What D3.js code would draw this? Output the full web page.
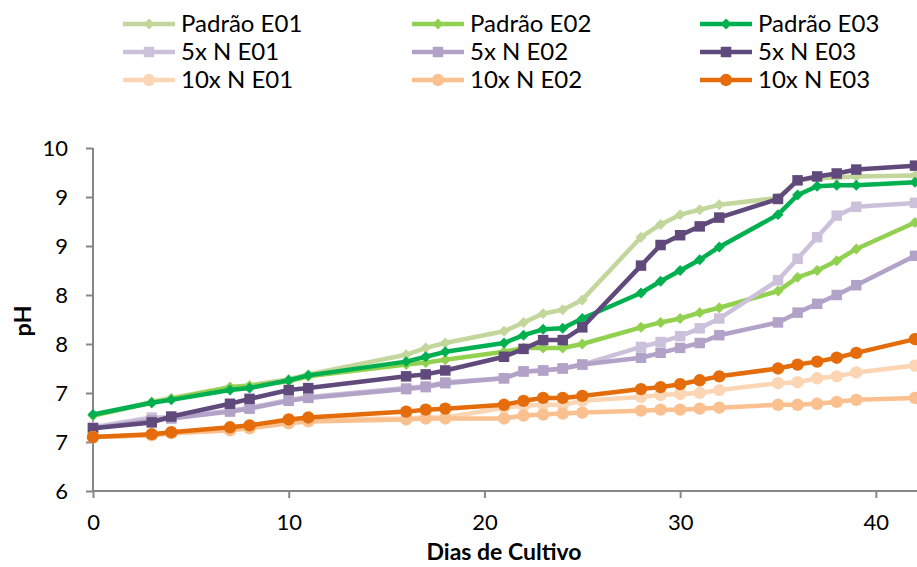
<!DOCTYPE html>
<html>
<head>
<meta charset="utf-8">
<script src="https://cdn.jsdelivr.net/npm/d3@7"></script>
<style>
  body { margin: 0; background: #fff; }
  svg { display: block; font-family: Lato, "Noto Sans", sans-serif; }
</style>
</head>
<body>
<script>
// chart size
var dimensions = {
  width: 917,
  height: 567
};

// days of culture (x values)
var days = [0, 3, 4, 7, 8, 10, 11, 16, 17, 18, 21, 22, 23, 24, 25, 28, 29, 30, 31, 32, 35, 36, 37, 38, 39, 42];

// pH series
var padraoE01 = [6.77, 6.91, 6.95, 7.06, 7.08, 7.14, 7.19, 7.39, 7.46, 7.51, 7.63, 7.72, 7.81, 7.85, 7.95, 8.59, 8.72, 8.82, 8.87, 8.92, 8.99, 9.17, 9.19, 9.20, 9.21, 9.22];
var padraoE02 = [6.77, 6.90, 6.94, 7.06, 7.07, 7.12, 7.17, 7.29, 7.31, 7.34, 7.42, 7.46, 7.46, 7.46, 7.50, 7.67, 7.72, 7.76, 7.82, 7.87, 8.04, 8.18, 8.25, 8.35, 8.47, 8.74];
var padraoE03 = [6.78, 6.90, 6.93, 7.03, 7.05, 7.13, 7.18, 7.32, 7.37, 7.42, 7.51, 7.59, 7.65, 7.66, 7.76, 8.02, 8.14, 8.25, 8.36, 8.49, 8.82, 9.02, 9.11, 9.12, 9.12, 9.15];
var n5E01 = [6.65, 6.75, 6.75, 6.82, 6.85, 6.93, 6.96, 7.05, 7.07, 7.11, 7.15, 7.22, 7.23, 7.25, 7.29, 7.47, 7.52, 7.58, 7.66, 7.76, 8.15, 8.37, 8.59, 8.81, 8.90, 8.94];
var n5E02 = [6.64, 6.72, 6.74, 6.81, 6.84, 6.92, 6.95, 7.04, 7.06, 7.10, 7.15, 7.22, 7.23, 7.25, 7.29, 7.36, 7.41, 7.46, 7.51, 7.59, 7.72, 7.82, 7.91, 8.00, 8.10, 8.40];
var n5E03 = [6.64, 6.70, 6.76, 6.89, 6.94, 7.03, 7.05, 7.17, 7.19, 7.23, 7.37, 7.45, 7.54, 7.54, 7.67, 8.30, 8.51, 8.61, 8.70, 8.79, 8.98, 9.17, 9.21, 9.24, 9.28, 9.32];
var n10E01 = [6.55, 6.57, 6.59, 6.62, 6.65, 6.70, 6.73, 6.74, 6.75, 6.75, 6.85, 6.87, 6.88, 6.88, 6.92, 6.96, 6.98, 6.99, 7.00, 7.03, 7.10, 7.11, 7.15, 7.17, 7.21, 7.28];
var n10E02 = [6.55, 6.57, 6.59, 6.62, 6.64, 6.69, 6.71, 6.73, 6.74, 6.74, 6.74, 6.77, 6.78, 6.79, 6.80, 6.82, 6.83, 6.83, 6.84, 6.85, 6.88, 6.88, 6.89, 6.91, 6.93, 6.95];
var n10E03 = [6.55, 6.58, 6.60, 6.65, 6.67, 6.73, 6.75, 6.81, 6.83, 6.84, 6.88, 6.92, 6.95, 6.95, 6.97, 7.04, 7.06, 7.09, 7.13, 7.17, 7.25, 7.29, 7.32, 7.36, 7.41, 7.55];

// names, colours and marker shapes, in legend order
var seriesNames = ['Padrão E01', 'Padrão E02', 'Padrão E03', '5x N E01', '5x N E02', '5x N E03', '10x N E01', '10x N E02', '10x N E03'];
var seriesValues = [padraoE01, padraoE02, padraoE03, n5E01, n5E02, n5E03, n10E01, n10E02, n10E03];
var seriesColors = ['#c3d69b', '#92d050', '#00b050', '#ccc1da', '#b3a2c7', '#604a7b', '#fcd5b5', '#fac090', '#e46c0a'];
var seriesMarkers = ['diamond', 'diamond', 'diamond', 'square', 'square', 'square', 'circle', 'circle', 'circle'];

// axis ticks (Excel rounds the half steps, hence the repeated labels)
var xTicks = [0, 10, 20, 30, 40];
var yTicks = [6, 6.5, 7, 7.5, 8, 8.5, 9, 9.5];
var yTickLabels = ['6', '7', '7', '8', '8', '9', '9', '10'];

var svg = d3.select('body')
  .append('svg')
  .attr('width', dimensions.width)
  .attr('height', dimensions.height);

var x = d3.scaleLinear().domain([0, 42]).range([93, 915]);
var y = d3.scaleLinear().domain([6, 9.5]).range([491, 148]);

var axisColor = '#868686';

// y axis
var yAxis = svg.append('g')
  .attr('transform', 'translate(' + x(0) + ',0)')
  .call(d3.axisLeft(y).tickValues(yTicks).tickSize(7).tickPadding(18)
    .tickFormat(function(d, i) { return yTickLabels[i]; }));

// x axis
var xAxis = svg.append('g')
  .attr('transform', 'translate(0,' + y(6) + ')')
  .call(d3.axisBottom(x).tickValues(xTicks).tickSize(7).tickPadding(16).tickSizeOuter(0));

[yAxis, xAxis].forEach(function(g) {
  g.select('.domain').attr('stroke', axisColor).attr('stroke-width', 2);
  g.selectAll('.tick line').attr('stroke', axisColor).attr('stroke-width', 2);
  g.selectAll('.tick text').attr('fill', '#000').style('font-size', '22px').style('font-family', 'Lato');
});
yAxis.select('.domain').attr('d', 'M0,' + y(9.5) + 'V' + y(6));
xAxis.select('.domain').attr('d', 'M' + x(0) + ',0H' + dimensions.width);

// axis titles
svg.append('text')
  .attr('x', 504).attr('y', 560)
  .attr('text-anchor', 'middle')
  .style('font-size', '23px').style('font-weight', 'bold')
  .text('Dias de Cultivo');

svg.append('text')
  .attr('transform', 'translate(31,321) rotate(-90)')
  .attr('text-anchor', 'middle')
  .style('font-size', '23.5px').style('font-weight', 'bold')
  .text('pH');

// marker symbols
var symbolFor = function(kind) {
  if (kind === 'diamond') return d3.symbol().type(d3.symbolSquare).size(60)();
  if (kind === 'square') return d3.symbol().type(d3.symbolSquare).size(110)();
  return d3.symbol().type(d3.symbolCircle).size(120)();
};
var markerTransform = function(kind, px, py) {
  return 'translate(' + px + ',' + py + ')' + (kind === 'diamond' ? ' rotate(45)' : '');
};

var line = d3.line()
  .x(function(d) { return x(d[0]); })
  .y(function(d) { return y(d[1]); });

// lines + markers, drawn in legend order so later series sit on top
seriesValues.forEach(function(vals, s) {
  var pts = days.map(function(d, i) { return [d, vals[i]]; });
  var g = svg.append('g');
  g.append('path')
    .datum(pts)
    .attr('d', line)
    .attr('fill', 'none')
    .attr('stroke', seriesColors[s])
    .attr('stroke-width', 4.5)
    .attr('stroke-linejoin', 'round');
  g.selectAll('path.marker')
    .data(pts)
    .enter()
    .append('path')
    .attr('class', 'marker')
    .attr('d', symbolFor(seriesMarkers[s]))
    .attr('transform', function(d) { return markerTransform(seriesMarkers[s], x(d[0]), y(d[1])); })
    .attr('fill', seriesColors[s]);
});

// legend: 3 columns, filled row by row
var legendCols = [123, 412, 700];
var legendRows = [24, 52, 80];

var legend = svg.selectAll('g.legend')
  .data(seriesNames)
  .enter()
  .append('g')
  .attr('class', 'legend')
  .attr('transform', function(d, i) {
    return 'translate(' + legendCols[i % 3] + ',' + legendRows[Math.floor(i / 3)] + ')';
  });

legend.append('line')
  .attr('x1', 0).attr('x2', 52)
  .attr('stroke', function(d, i) { return seriesColors[i]; })
  .attr('stroke-width', 4.5);

legend.append('path')
  .attr('d', function(d, i) { return symbolFor(seriesMarkers[i]); })
  .attr('transform', function(d, i) { return markerTransform(seriesMarkers[i], 26, 0); })
  .attr('fill', function(d, i) { return seriesColors[i]; });

legend.append('text')
  .attr('x', 58)
  .attr('dy', '0.35em')
  .style('font-size', '24px')
  .text(function(d) { return d; });
</script>
</body>
</html>
